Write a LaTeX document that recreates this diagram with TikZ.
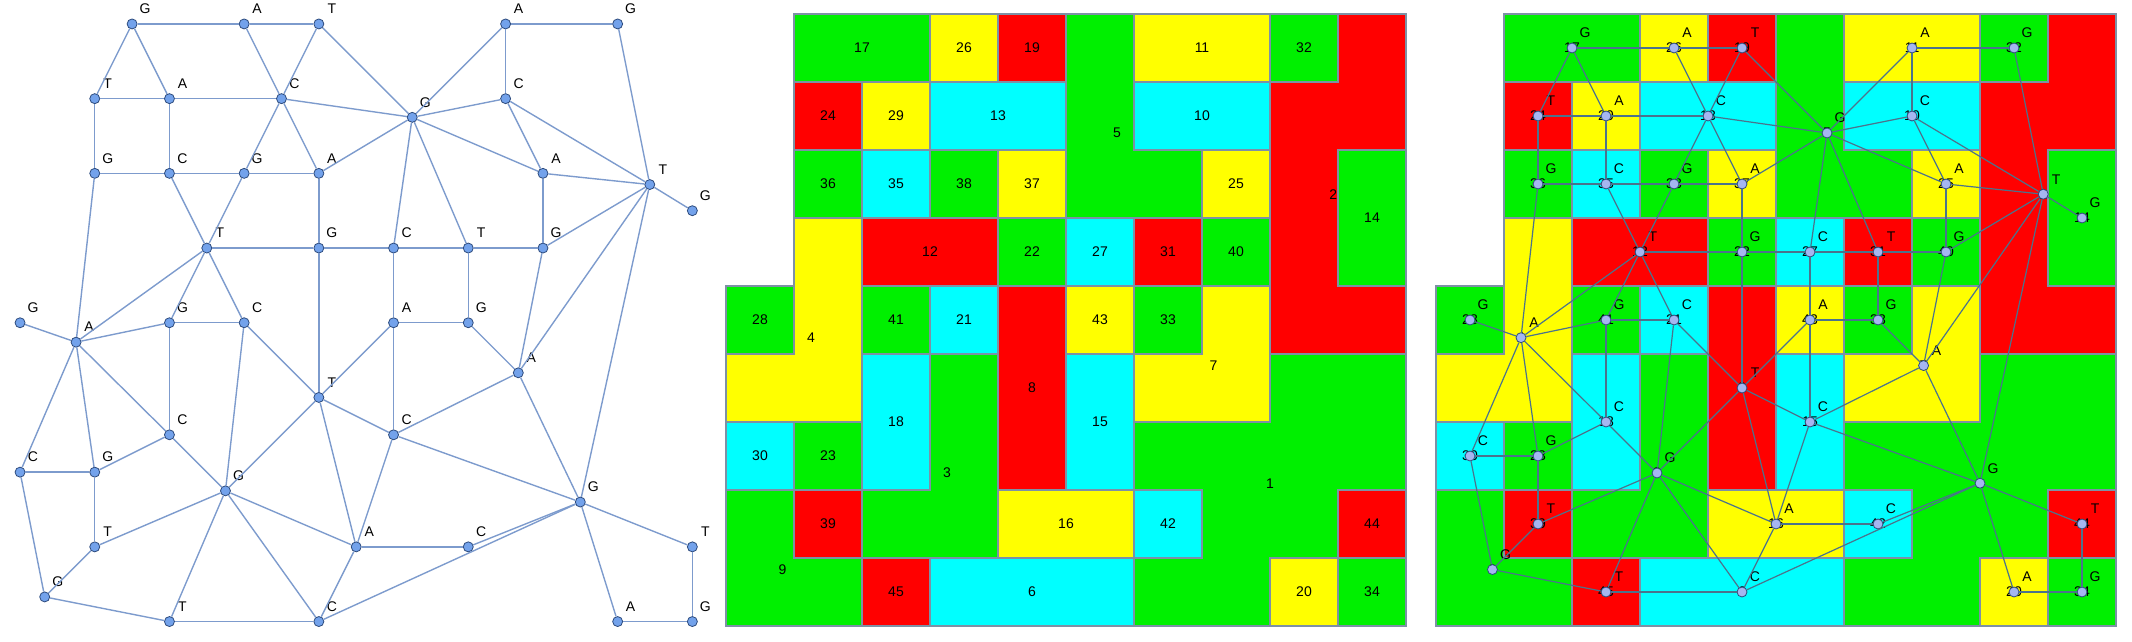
\documentclass[tikz,border=0pt]{standalone}
\usepackage{fontspec}
\setmainfont{Liberation Sans}

\definecolor{regG}{RGB}{0,240,0}
\definecolor{regA}{RGB}{255,255,0}
\definecolor{regT}{RGB}{255,0,0}
\definecolor{regC}{RGB}{0,255,255}
\definecolor{edgeblue}{RGB}{125,155,205}
\definecolor{dotblue}{RGB}{115,162,235}
\definecolor{dotrim}{RGB}{45,75,125}
\definecolor{mapline}{RGB}{125,145,165}
\definecolor{overedge}{RGB}{75,115,140}
\definecolor{overdot}{RGB}{165,182,240}

\tikzset{
  dot/.style={circle, fill=dotblue, draw=dotrim, line width=0.8pt, inner sep=0pt, minimum size=10pt},
  odot/.style={dot, fill=overdot},
  link/.style={draw=edgeblue, line width=1.4pt},
  olink/.style={draw=overedge, line width=1.2pt},
  cell/.style={draw=mapline, line width=1.4pt, line join=miter},
  num/.style={inner sep=0pt, font=\fontsize{14}{16}\selectfont},
}

% region number / label point (cell units) / base
\def\regionlist{1/8.0/6.9/G, 2/8.93/2.65/T, 3/3.25/6.75/G, 4/1.25/4.76/A, 5/5.75/1.75/G,
  6/4.5/8.5/C, 7/7.17/5.17/A, 8/4.5/5.5/T, 9/0.83/8.17/G, 10/7/1.5/C, 11/7/0.5/A,
  12/3/3.5/T, 13/4/1.5/C, 14/9.5/3/G, 15/5.5/6/C, 16/5/7.5/A, 17/2/0.5/G, 18/2.5/6/C,
  19/4.5/0.5/T, 20/8.5/8.5/A, 21/3.5/4.5/C, 22/4.5/3.5/G, 23/1.5/6.5/G, 24/1.5/1.5/T,
  25/7.5/2.5/A, 26/3.5/0.5/A, 27/5.5/3.5/C, 28/0.5/4.5/G, 29/2.5/1.5/A, 30/0.5/6.5/C,
  31/6.5/3.5/T, 32/8.5/0.5/G, 33/6.5/4.5/G, 34/9.5/8.5/G, 35/2.5/2.5/C, 36/1.5/2.5/G,
  37/4.5/2.5/A, 38/3.5/2.5/G, 39/1.5/7.5/T, 40/7.5/3.5/G, 41/2.5/4.5/G, 42/6.5/7.5/C,
  43/5.5/4.5/A, 44/9.5/7.5/T, 45/2.5/8.5/T}

% neighbouring regions
\def\edgelist{17/26, 26/19, 17/24, 17/29, 26/13, 19/13, 19/5, 24/29, 29/13, 13/5,
  13/38, 38/12, 13/37, 36/35, 35/38, 38/37, 37/5, 37/22, 35/12, 24/36, 29/35, 36/4,
  12/22, 12/4, 12/41, 12/21, 22/27, 22/8, 28/4, 41/21, 4/41, 11/32, 11/5, 11/10,
  32/2, 5/10, 10/25, 10/2, 5/25, 25/2, 25/40, 2/14, 5/27, 5/31, 27/31, 31/40, 40/2,
  27/43, 31/33, 43/33, 40/7, 2/7, 2/1, 33/7, 43/15, 43/8, 7/15, 7/1, 15/1, 8/15,
  15/16, 16/6, 16/42, 42/1, 6/1, 1/44, 1/20, 44/34, 20/34, 4/18, 4/30, 4/23, 41/18,
  21/3, 21/8, 8/3, 8/16, 18/23, 18/3, 30/23, 30/9, 23/39, 3/39, 39/9, 9/45, 3/45,
  3/6, 3/16, 45/6}

% the coloured map, in cell units
\newcommand{\mapblocks}{%
  \foreach \px/\py/\qx/\qy/\lt in {3/8/6/9/C, 4/4/5/7/T, 6/1/8/2/C, 6/0/8/1/A,
      2/3/4/4/T, 3/1/5/2/C, 9/2/10/4/G, 5/5/6/7/C, 4/7/6/8/A, 1/0/3/1/G, 2/5/3/7/C,
      4/0/5/1/T, 8/8/9/9/A, 3/4/4/5/C, 4/3/5/4/G, 1/6/2/7/G, 1/1/2/2/T, 7/2/8/3/A,
      3/0/4/1/A, 5/3/6/4/C, 0/4/1/5/G, 2/1/3/2/A, 0/6/1/7/C, 6/3/7/4/T, 8/0/9/1/G,
      6/4/7/5/G, 9/8/10/9/G, 2/2/3/3/C, 1/2/2/3/G, 4/2/5/3/A, 3/2/4/3/G, 1/7/2/8/T,
      7/3/8/4/G, 2/4/3/5/G, 6/7/7/8/C, 5/4/6/5/A, 9/7/10/8/T, 2/8/3/9/T} {
    \filldraw[cell, fill=reg\lt] (\px,\py) rectangle (\qx,\qy);
  }
  \filldraw[cell, fill=regG] (8,5) -- (10,5) -- (10,7) -- (9,7) -- (9,8) -- (8,8) -- (8,9)
    -- (6,9) -- (6,8) -- (7,8) -- (7,7) -- (6,7) -- (6,6) -- (8,6) -- cycle;
  \filldraw[cell, fill=regT] (9,0) -- (10,0) -- (10,2) -- (9,2) -- (9,4) -- (10,4) -- (10,5)
    -- (8,5) -- (8,1) -- (9,1) -- cycle;
  \filldraw[cell, fill=regG] (3,5) -- (4,5) -- (4,8) -- (2,8) -- (2,7) -- (3,7) -- cycle;
  \filldraw[cell, fill=regA] (1,3) -- (2,3) -- (2,6) -- (0,6) -- (0,5) -- (1,5) -- cycle;
  \filldraw[cell, fill=regG] (5,0) -- (6,0) -- (6,2) -- (7,2) -- (7,3) -- (5,3) -- cycle;
  \filldraw[cell, fill=regA] (7,4) -- (8,4) -- (8,6) -- (6,6) -- (6,5) -- (7,5) -- cycle;
  \filldraw[cell, fill=regG] (0,7) -- (1,7) -- (1,8) -- (2,8) -- (2,9) -- (0,9) -- cycle;
}

\begin{document}
\begin{tikzpicture}[x=1pt, y=-1pt]
\useasboundingbox (0,0) rectangle (2132,642);

% --- graph ---
\begin{scope}[shift={(-17.3,-13.4)}, x=74.7pt, y=-74.7pt]
  \foreach \n/\px/\py/\lt in \regionlist {
    \node[dot] (L\n) at (\px,\py) {};
    \node[num] (Ll\n) at ([shift={(13pt,15pt)}]L\n) {\lt};
  }
  \foreach \a/\b in \edgelist {
    \draw[link] (L\a) -- (L\b);
  }
\end{scope}

% --- map with numbers ---
\begin{scope}[shift={(726,14)}, x=68pt, y=-68pt]
  \mapblocks
  \foreach \n/\px/\py/\lt in \regionlist {
    \node[num] (M\n) at (\px,\py) {\n};
  }
\end{scope}

% --- graph laid over the map ---
\begin{scope}[shift={(1436,14)}, x=68pt, y=-68pt]
  \mapblocks
  \foreach \n/\px/\py/\lt in \regionlist {
    \node[num] (N\n) at (\px,\py) {\n};
  }
  \foreach \n/\px/\py/\lt in \regionlist {
    \node[odot] (R\n) at (\px,\py) {};
    \node[num] (Rl\n) at ([shift={(13pt,15pt)}]R\n) {\lt};
  }
  \foreach \a/\b in \edgelist {
    \draw[olink] (R\a) -- (R\b);
  }
\end{scope}

\end{tikzpicture}
\end{document}
